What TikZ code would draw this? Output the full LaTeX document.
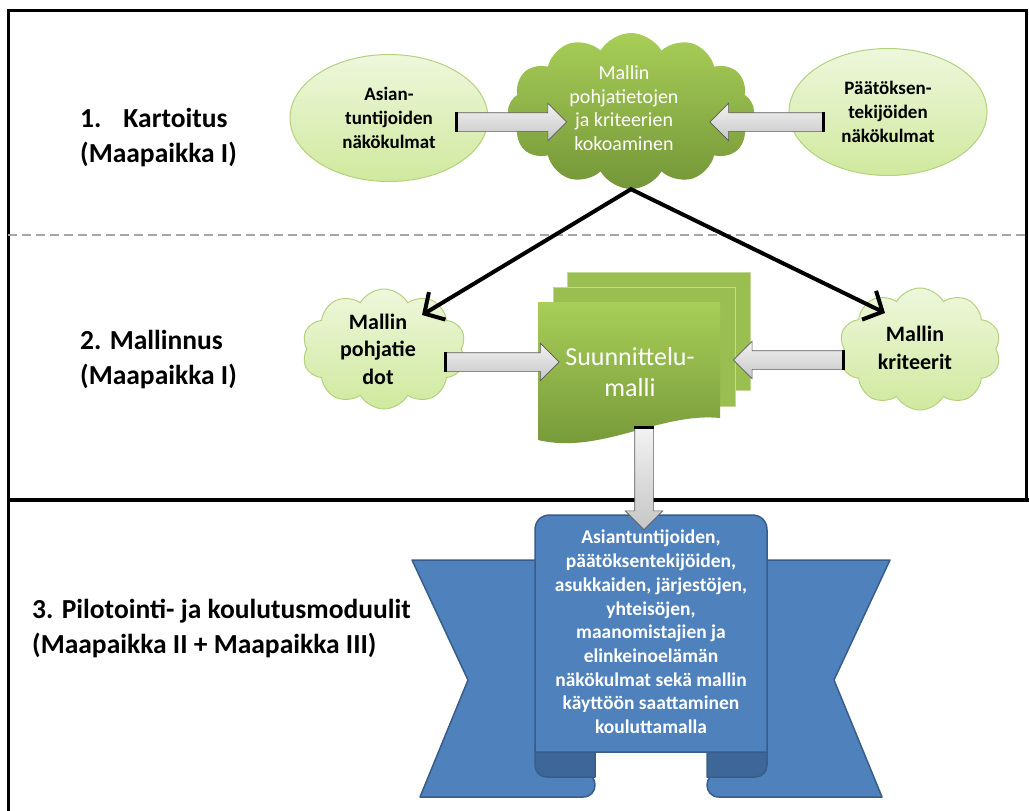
\documentclass[tikz,border=0pt]{standalone}
\usepackage{fontspec}
\setmainfont{Carlito}
\usetikzlibrary{shapes.geometric,shapes.symbols,shapes.arrows,arrows.meta,calc}
\definecolor{leafgreen}{RGB}{155,190,80}
\definecolor{leaftop}{RGB}{168,206,88}
\definecolor{leafbottom}{RGB}{116,150,56}
\definecolor{palegreen}{RGB}{238,247,220}
\definecolor{palebottom}{RGB}{208,233,158}
\definecolor{paleedge}{RGB}{180,210,125}
\definecolor{ribbonblue}{RGB}{79,129,189}
\definecolor{ribbonedge}{RGB}{56,93,138}
\definecolor{ribbondark}{RGB}{62,103,153}

\begin{document}
\begin{tikzpicture}[
    x=1pt, y=-1pt,
    frame/.style={line width=3pt, black},
    phaseline/.style={line width=2pt, gray!70, dash pattern=on 9pt off 5pt},
    steplabel/.style={anchor=west, align=left, inner sep=0pt, font=\fontsize{27.5}{35}\selectfont\bfseries},
    viewpoint/.style={ellipse, draw=paleedge, line width=1pt, top color=palegreen, bottom color=palebottom, minimum width=198pt, minimum height=127pt, inner sep=0pt, align=center, font=\fontsize{19}{24}\selectfont\bfseries},
    paleblob/.style={cloud, cloud puffs=10, cloud puff arc=120, cloud ignores aspect, draw=paleedge, line width=1pt, top color=palegreen, bottom color=palebottom},
    greenblob/.style={cloud, cloud puffs=12, cloud puff arc=120, cloud ignores aspect, top color=leaftop, bottom color=leafbottom},
    blobtext/.style={align=center, inner sep=0pt, font=\fontsize{22}{27.5}\selectfont\bfseries},
    whitetext/.style={align=center, inner sep=0pt, text=white, font=\fontsize{20}{23.5}\selectfont},
    grayarrow/.style={single arrow, draw=gray!70!black, line width=.6pt, top color=gray!10, bottom color=gray!45, inner sep=0pt, inner ysep=9pt, single arrow head extend=9.5pt, minimum height=#1},
    tailbar/.style={line width=3pt, black},
    flow/.style={line width=4pt, line join=miter},
    page/.style={fill=leafgreen, draw=leafgreen!60!white, line width=1pt},
    ribbon/.style={fill=ribbonblue, draw=ribbonedge, line width=1.5pt, line join=round},
    fold/.style={fill=ribbondark, draw=ribbonedge, line width=1.5pt, line join=round},
    ribbontext/.style={align=center, inner sep=0pt, text=white, font=\fontsize{19.5}{23.7}\selectfont\bfseries}
]
\useasboundingbox (0,0) rectangle (1029,811);

% kehys ja vaiheiden rajat
\draw[frame] (1026,500) -- (1026,10) -- (8,10) -- (8,811);
\draw[frame, line width=4.5pt] (8,500) -- (1029,500);
\draw[phaseline] (8,235) -- (1026,235);

% vaiheiden otsikot
\node[steplabel] (kartoitus) at (80,138) {1.\hspace{22pt}Kartoitus\\(Maapaikka I)};
\node[steplabel] (mallinnus) at (80,360) {2. Mallinnus\\(Maapaikka I)};
\node[steplabel] (pilotointi) at (32,628) {3. Pilotointi- ja koulutusmoduulit\\(Maapaikka II + Maapaikka III)};

% 1. kartoitus
\node[viewpoint] (asiantuntijat) at (389,118) {Asian-\\tuntijoiden\\näkökulmat};
\node[viewpoint] (paattajat) at (888,112) {Päätöksen-\\tekijöiden\\näkökulmat};
\node[greenblob, minimum width=246pt, minimum height=156pt] (kokoaminen) at (631,111) {};
\node[whitetext] (kokoamisteksti) at (624,108) {Mallin\\pohjatietojen\\ja kriteerien\\kokoaminen};

% 2. mallinnus
\node[paleblob, minimum width=164pt, minimum height=120pt] (pohjatiedot) at (384,349) {};
\node[blobtext] (pohjatietoteksti) at (378,349) {Mallin\\pohjatie\\dot};
\node[paleblob, minimum width=162pt, minimum height=122pt] (kriteerit) at (920,349) {};
\node[blobtext] (kriteeriteksti) at (915,348) {Mallin\\kriteerit};

\filldraw[page] (567,272) rectangle (750,390);
\filldraw[page] (553,287) rectangle (735,406);
\shade[top color=leaftop, bottom color=leafbottom] (538,302) -- (720,302) -- (720,418)
    .. controls (660,412) and (600,455) .. (538,440) -- cycle;
\node[whitetext, font=\fontsize{26}{31}\selectfont] (suunnittelumalli) at (630,372) {Suunnittelu-\\malli};

% 3. pilotointi
\filldraw[ribbon] (412,560) -- (545,560) -- (545,773) -- (583,773)
    .. controls (599,773) and (599,797) .. (583,797) -- (420,797) -- (468,680) -- cycle;
\filldraw[ribbon] (890,560) -- (757,560) -- (757,773) -- (719,773)
    .. controls (703,773) and (703,797) .. (719,797) -- (882,797) -- (834,680) -- cycle;
\filldraw[fold] (535,745) -- (595,745) -- (595,777) -- (547,777)
    .. controls (540,777) and (535,772) .. (535,765) -- cycle;
\filldraw[fold] (767,745) -- (707,745) -- (707,777) -- (755,777)
    .. controls (762,777) and (767,772) .. (767,765) -- cycle;
\filldraw[ribbon] (535,752) -- (535,530) .. controls (535,521) and (541,515) .. (550,515)
    -- (752,515) .. controls (761,515) and (767,521) .. (767,530) -- (767,752) -- cycle;
\node[ribbontext] (tavoite) at (651,632) {Asiantuntijoiden,\\päätöksentekijöiden,\\asukkaiden, järjestöjen,\\yhteisöjen,\\maanomistajien ja\\elinkeinoelämän\\näkökulmat sekä mallin\\käyttöön saattaminen\\kouluttamalla};

% nuolet
\node[grayarrow=110pt] (nuoli1) at (507,122) {};
\node[grayarrow=113pt, rotate=180] (nuoli2) at (771,122) {};
\node[grayarrow=113pt] (nuoli3) at (498,362) {};
\node[grayarrow=110pt, rotate=180] (nuoli4) at (793,360) {};
\node[grayarrow=102pt, rotate=-90] (nuoli5) at (644,474) {};
\foreach \n in {nuoli1,nuoli2,nuoli3,nuoli4,nuoli5}
    \draw[tailbar] (\n.before tail) -- (\n.after tail);

\draw[flow, {Straight Barb[length=15pt,width=32pt]}-{Straight Barb[length=15pt,width=32pt]}]
    ($(pohjatiedot.center)+(38,-34)$) -- (kokoaminen.south) -- ($(kriteerit.center)+(-35,-36)$);
\end{tikzpicture}
\end{document}
